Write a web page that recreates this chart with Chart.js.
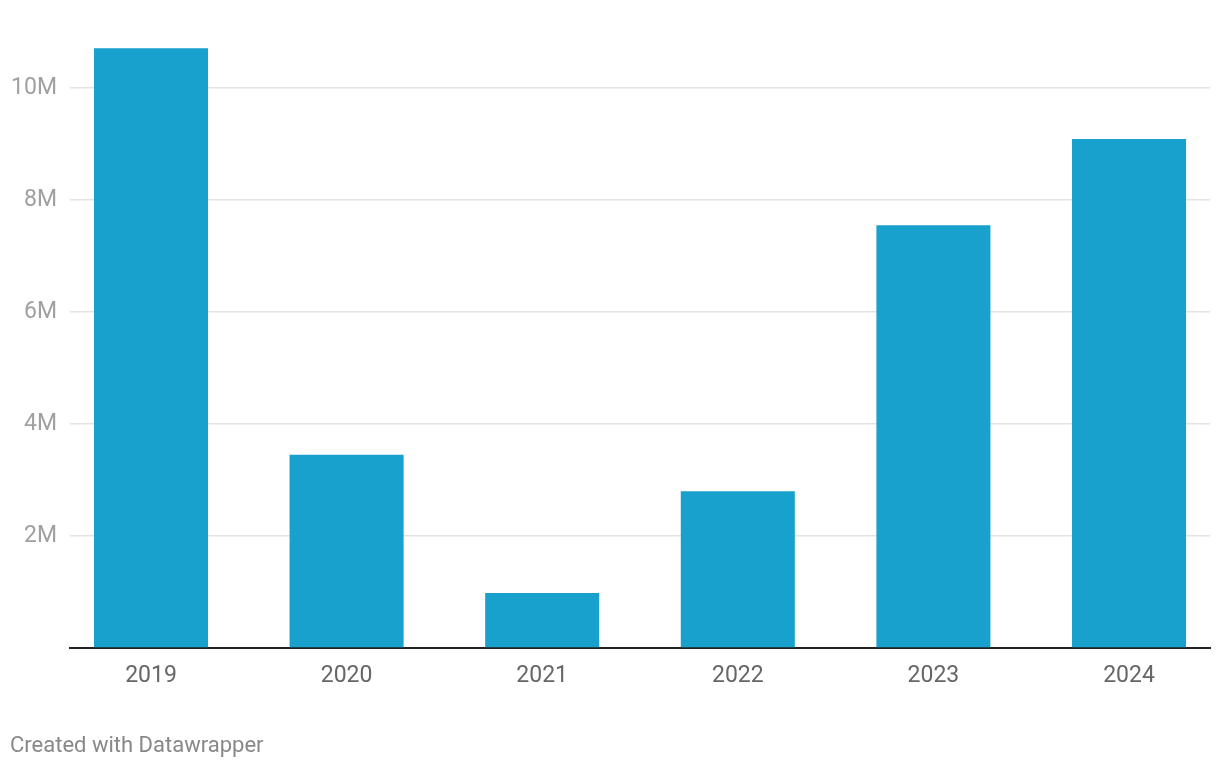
<!DOCTYPE html>
<html>
<head>
<meta charset="utf-8">
<script src="https://cdn.jsdelivr.net/npm/chart.js@4"></script>
<style>
  html, body { margin: 0; padding: 0; background: #fff; }
  #wrap { position: relative; width: 1220px; height: 770px; }
  #footer {
    position: absolute; left: 10px; top: 732px;
    font-family: Roboto, sans-serif; font-size: 22px; color: #888;
  }
</style>
</head>
<body>
<div id="wrap">
  <canvas id="chart" width="1220" height="770"></canvas>
  <div id="footer">Created with Datawrapper</div>
</div>
<script>
const years = ['2019', '2020', '2021', '2022', '2023', '2024'];
const values = [10710000, 3450000, 980000, 2800000, 7550000, 9090000];
const yTicks = [0, 2000000, 4000000, 6000000, 8000000, 10000000];

document.addEventListener("DOMContentLoaded", function () {
    const ctx = document.getElementById('chart');

    new Chart(ctx, {
        type: 'bar',
        data: {
            datasets: [{
                data: values.map((v, i) => ({ x: i, y: v })),
                backgroundColor: '#18a1cd',
                borderWidth: 0,
                categoryPercentage: 1,
                barPercentage: 0.583
            }]
        },
        options: {
            responsive: false,
            animation: false,
            layout: { padding: { top: 32, right: 10, left: 0, bottom: 0 } },
            plugins: { legend: { display: false }, tooltip: { enabled: false } },
            scales: {
                x: {
                    type: 'linear',
                    offset: false,
                    min: -0.414,
                    max: 5.414,
                    afterBuildTicks: s => { s.ticks = years.map((_, i) => ({ value: i })); },
                    afterFit: s => { s.height = 122; },
                    grid: { display: false, drawTicks: false },
                    border: { color: '#222', width: 2 },
                    ticks: {
                        padding: 14,
                        color: '#666',
                        font: { family: 'Roboto', size: 23 },
                        callback: v => years[v]
                    }
                },
                y: {
                    min: 0,
                    max: 11000000,
                    afterBuildTicks: s => { s.ticks = yTicks.map(v => ({ value: v })); },
                    afterFit: s => { s.width = 70; },
                    border: { display: false },
                    grid: {
                        drawTicks: false,
                        lineWidth: 1.5,
                        color: c => c.tick && c.tick.value === 0 ? 'rgba(0,0,0,0)' : '#e3e3e3'
                    },
                    ticks: {
                        padding: 13,
                        color: '#a0a0a0',
                        font: { family: 'Roboto', size: 23 },
                        callback: v => v === 0 ? '' : (v / 1000000) + 'M'
                    }
                }
            }
        }
    });
});
</script>
</body>
</html>
